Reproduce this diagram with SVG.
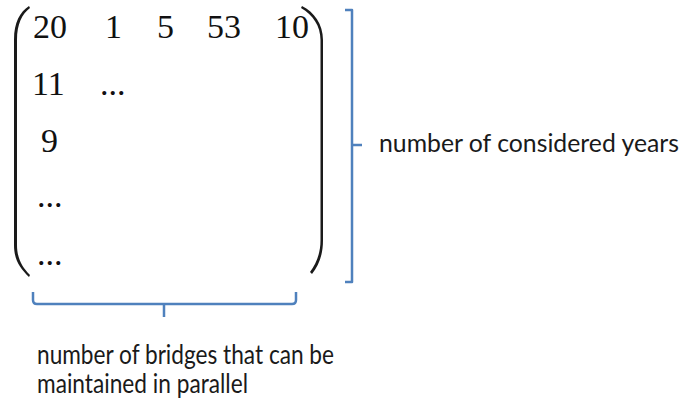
<svg xmlns="http://www.w3.org/2000/svg" width="690" height="402" viewBox="0 0 690 402">
<style>
.m{font-family:"Liberation Serif","Times New Roman",serif;font-size:34px;fill:#111}
.l{font-family:Lato,"Open Sans",sans-serif;font-size:26px;fill:#1a1a1a}
.br{fill:none;stroke:#4F81BD;stroke-width:2.5;stroke-linejoin:round}
.p{fill:#1a1a1a}
</style>
<rect width="690" height="402" fill="#fff"/>
<g id="matrix">
<path class="p" d="M29,6 C20,12 14,22 14,40 L14,245 C14,260 20,268 29,277 L30,275 C22,267 17,258 17,245 L17,40 C17,24 22,14 30,8 Z"/>
<path class="p" d="M302,6 C314,12 323,24 323,40 L323,240 C323,255 319,265 312,274 L310,272 C316,264 320.5,254 320.5,240 L320.5,40 C320.5,26 313,15 301,8 Z"/>
<text class="m" x="33" y="38">20</text>
<text class="m" x="105" y="38">1</text>
<text class="m" x="157" y="38">5</text>
<text class="m" x="207" y="38">53</text>
<text class="m" x="275" y="38">10</text>
<text class="m" x="32" y="95">11</text>
<text class="m" x="100" y="95">...</text>
<text class="m" x="41" y="152">9</text>
<text class="m" x="37" y="207">...</text>
<text class="m" x="37" y="265">...</text>
</g>
<g id="connectors">
<path class="br" d="M345,10 L352,10 L352,282 L345,282 M352,145 L362,145"/>
<path class="br" d="M33,292 L33,300 Q33,304 37,304 L292,304 Q296,304 296,300 L296,292 M164,304 L164,317"/>
</g>
<g id="years-label">
<text class="l" x="379" y="152" style="font-size:25px" textLength="300" lengthAdjust="spacingAndGlyphs">number of considered years</text>
</g>
<g id="bridges-label">
<text class="l" x="37" y="364" textLength="297" lengthAdjust="spacingAndGlyphs">number of bridges that can be</text>
<text class="l" x="37" y="393" textLength="211" lengthAdjust="spacingAndGlyphs">maintained in parallel</text>
</g>
</svg>
